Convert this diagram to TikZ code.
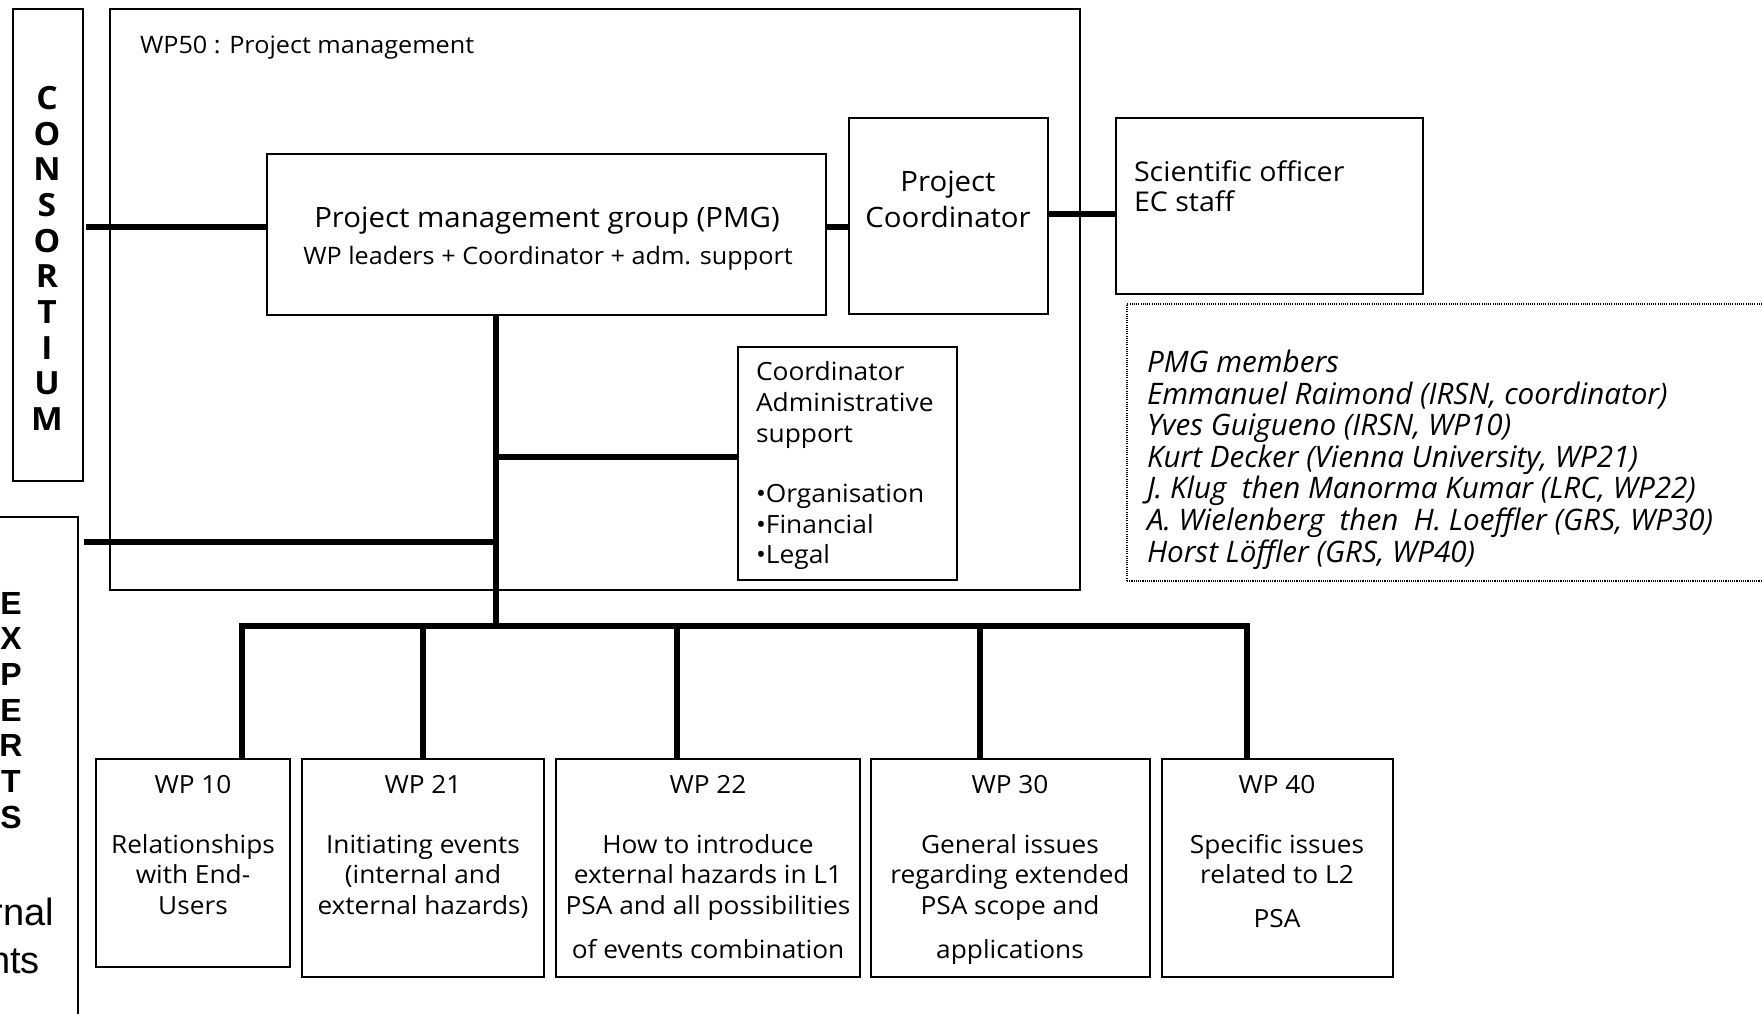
\documentclass[tikz,border=0pt]{standalone}
\usepackage{fontspec}
\setmainfont{Open Sans}[FakeStretch=1.05]
\newfontfamily\memfont{Open Sans}
\newfontfamily\arialfont{Liberation Sans}
\usetikzlibrary{calc}
\newcommand\fs[1]{\fontsize{#1pt}{#1pt}\selectfont}
\newcommand\mkbox[6][]{\node[box,#1,minimum width={(#5-#3)*0.5pt},minimum height={(#6-#4)*0.5pt}] (#2) at ({(#3+#5)/2},{(#4+#6)/2}) {};}
\begin{document}
\begin{tikzpicture}[x=0.5pt,y=-0.5pt,
  box/.style={draw,line width=1.2pt,inner sep=0pt,outer sep=0pt,rectangle},
  thinbox/.style={line width=0.9pt},
  hairbox/.style={line width=0.65pt},
  dotbox/.style={dash pattern=on 0.55pt off 0.55pt,line width=0.6pt},
  conn/.style={line width=3.3pt},
  txt/.style={inner sep=0pt,outer sep=0pt},
  wpt/.style={txt,anchor=base,font=\fs{12.5}},
  ltr/.style={txt,anchor=center,font=\bfseries\fs{16}},
  xltr/.style={txt,anchor=center,font=\arialfont\bfseries\fs{16}},
  mem/.style={txt,anchor=base west,font=\memfont\itshape\fs{14.8}},
  adm/.style={txt,anchor=base west,font=\fs{12.55}}]
\useasboundingbox (0,0) rectangle (1762,1013);

% boxes
\mkbox[thinbox]{cons}{13}{9}{83}{481}
\mkbox[thinbox]{wp50}{110}{9}{1080}{590}
\mkbox{pmg}{267}{154}{826}{315}
\mkbox{pc}{849}{118}{1048}{314}
\mkbox{sci}{1116}{118}{1423}{294}
\mkbox[dotbox]{memb}{1127}{304}{1790}{581}
\mkbox{adm}{738}{347}{957}{580}
\mkbox[hairbox]{exp}{-20}{517}{78}{1040}
\mkbox{wp10}{96}{759}{290}{967}
\mkbox{wp21}{302}{759}{544}{977}
\mkbox{wp22}{556}{759}{860}{977}
\mkbox{wp30}{871}{759}{1150}{977}
\mkbox{wp40}{1162}{759}{1393}{977}

% texts
\node[txt,anchor=base west,font=\fs{12}] (t50) at (140,53) {WP50 : Project management};
\node[txt,anchor=base,font=\fs{14}] (tpmg1) at (547,227) {Project management group (PMG)};
\node[txt,anchor=base,font=\fs{12}] (tpmg2) at (548,264) {WP leaders + Coordinator + adm. support};
\node[txt,anchor=base,font=\fs{14}] (tpc1) at (948,191) {Project};
\node[txt,anchor=base,font=\fs{14}] (tpc2) at (948,227) {Coordinator};
\node[txt,anchor=base west,font=\fs{13.6}] (tsci1) at (1134,181) {Scientific officer};
\node[txt,anchor=base west,font=\fs{13.6}] (tsci2) at (1134,211) {EC staff};

\node[adm] (ta1) at (756,380) {Coordinator};
\node[adm] (ta2) at (756,411) {Administrative};
\node[adm] (ta3) at (756,442) {support};
\node[adm] (ta4) at (756,502) {•Organisation};
\node[adm] (ta5) at (756,533) {•Financial};
\node[adm] (ta6) at (756,563) {•Legal};

\node[mem] (m1) at (1147,372) {PMG members};
\node[mem] (m2) at (1147,404) {Emmanuel Raimond (IRSN, coordinator)};
\node[mem] (m3) at (1147,435) {Yves Guigueno (IRSN, WP10)};
\node[mem] (m4) at (1147,467) {Kurt Decker (Vienna University, WP21)};
\node[mem] (m5) at (1147,498) {J. Klug\ \ then Manorma Kumar (LRC, WP22)};
\node[mem] (m6) at (1147,530) {A. Wielenberg\ \ then\ \ H. Loeffler (GRS, WP30)};
\node[mem] (m7) at (1147,562) {Horst Löffler (GRS, WP40)};

% consortium letters
\foreach \l [count=\i from 0] in {C,O,N,S,O,R,T,I,U,M}
  \node[ltr] (c\i) at (47,{98+\i*35.67}) {\l};
% experts letters
\foreach \l [count=\i from 0] in {E,X,P,E,R,T,S}
  \node[xltr] (e\i) at (11,{603+\i*35.7}) {\l};
\node[txt,anchor=base east,font=\arialfont\fs{19}] (rnal) at (54,925) {rnal};
\node[txt,anchor=base east,font=\arialfont\fs{19}] (nts) at (40,973) {nts};

% WP texts
\node[wpt] (w10a) at (193,793) {WP 10};
\node[wpt] (w10b) at (193,853) {Relationships};
\node[wpt] (w10c) at (193,883) {with End-};
\node[wpt] (w10d) at (193,914) {Users};
\node[wpt] (w21a) at (423,793) {WP 21};
\node[wpt] (w21b) at (423,853) {Initiating events};
\node[wpt] (w21c) at (423,883) {(internal and};
\node[wpt] (w21d) at (423,914) {external hazards)};
\node[wpt] (w22a) at (708,793) {WP 22};
\node[wpt] (w22b) at (708,853) {How to introduce};
\node[wpt] (w22c) at (708,883) {external hazards in L1};
\node[wpt] (w22d) at (708,914) {PSA and all possibilities};
\node[wpt] (w22e) at (708,958) {of events combination};
\node[wpt] (w30a) at (1010,793) {WP 30};
\node[wpt] (w30b) at (1010,853) {General issues};
\node[wpt] (w30c) at (1010,883) {regarding extended};
\node[wpt] (w30d) at (1010,914) {PSA scope and};
\node[wpt] (w30e) at (1010,958) {applications};
\node[wpt] (w40a) at (1277,793) {WP 40};
\node[wpt] (w40b) at (1277,853) {Specific issues};
\node[wpt] (w40c) at (1277,883) {related to L2};
\node[wpt] (w40d) at (1277,927) {PSA};

% connectors
\coordinate (yA) at (0,227);
\coordinate (yB) at (0,214);
\coordinate (yC) at (0,457);
\coordinate (yD) at (0,542);
\coordinate (vx) at (496,0);
\coordinate (bus) at (496,626);
\coordinate (d1) at (242,626);
\coordinate (d2) at (423,626);
\coordinate (d3) at (677,626);
\coordinate (d4) at (980,626);
\coordinate (d5) at (1247,626);
\draw[conn,shorten <=1.5pt] (cons.east |- yA) -- (pmg.west |- yA);
\draw[conn] (pmg.east |- yA) -- (pc.west |- yA);
\draw[conn] (pc.east |- yB) -- (sci.west |- yB);
\draw[conn] (pmg.south -| vx) -- (bus);
\draw[conn] (vx |- yC) -- (adm.west |- yC);
\draw[conn,shorten <=3pt] (exp.east |- yD) -- (vx |- yD);
\draw[conn] (d1 |- wp10.north) -- (d1) -- (d5) -- (d5 |- wp40.north);
\draw[conn] (d2) -- (d2 |- wp21.north);
\draw[conn] (d3) -- (d3 |- wp22.north);
\draw[conn] (d4) -- (d4 |- wp30.north);
\end{tikzpicture}
\end{document}
